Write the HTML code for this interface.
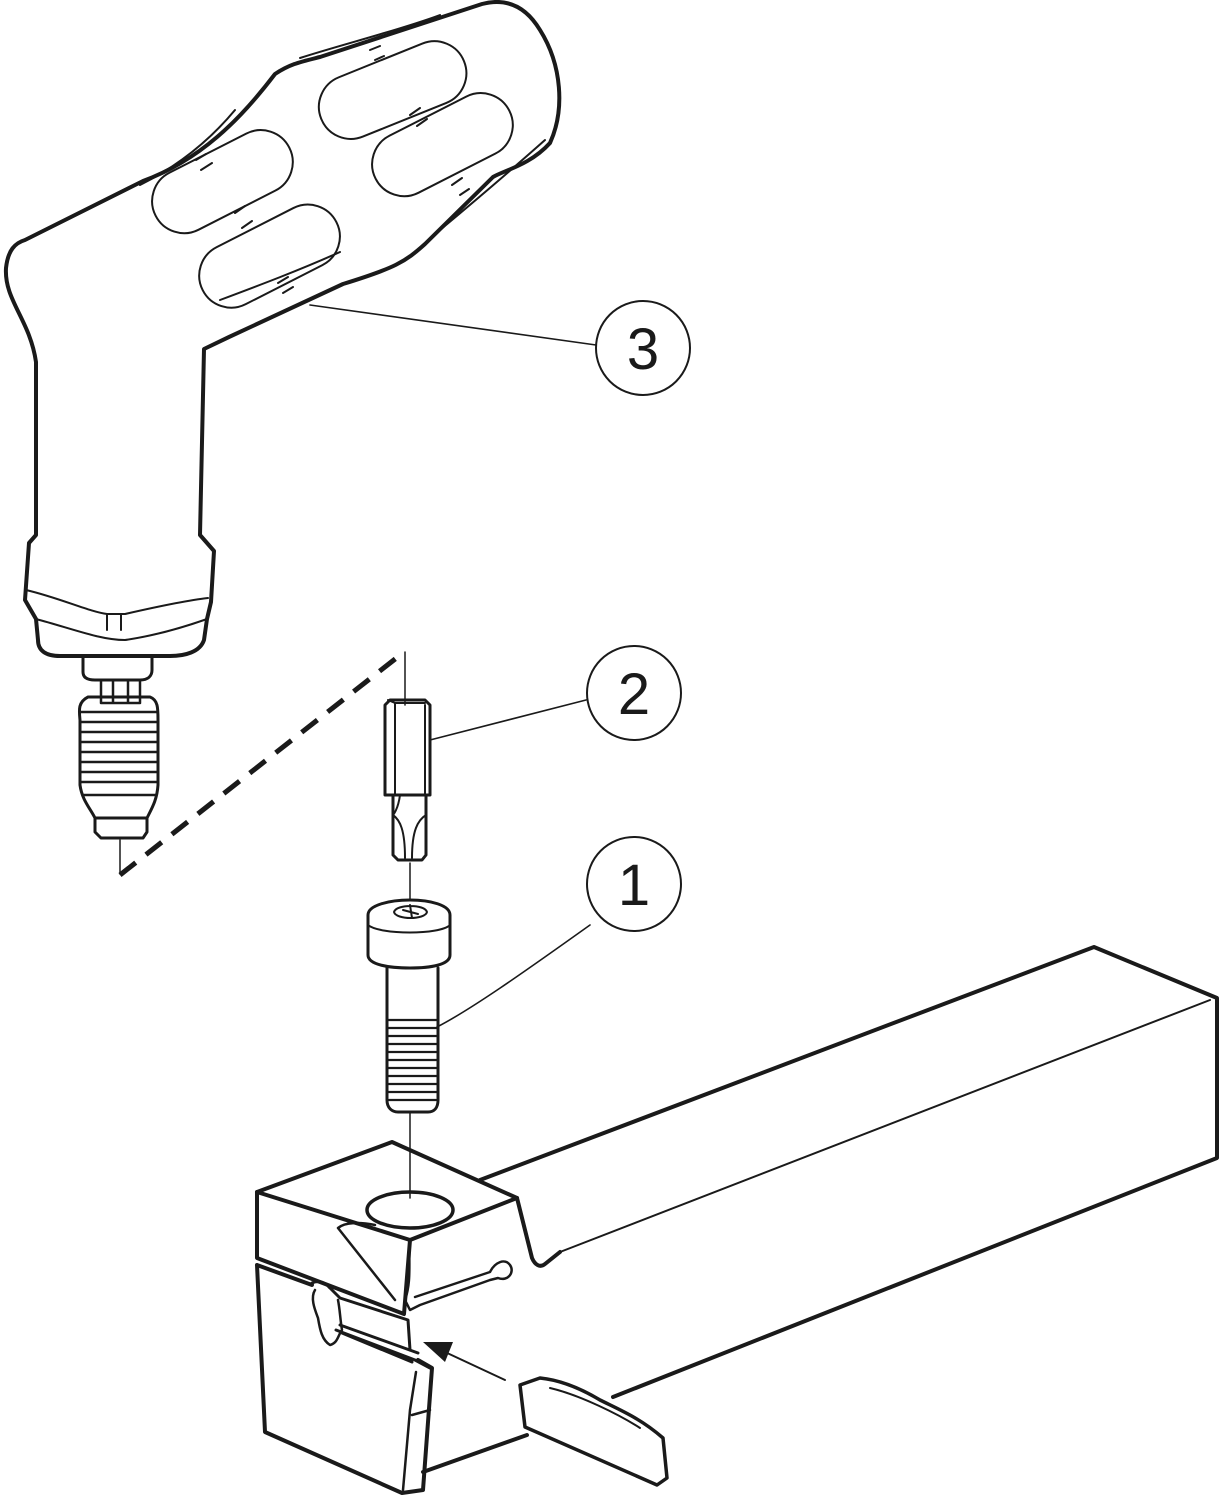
<!DOCTYPE html>
<html><head><meta charset="utf-8"><style>
html,body{margin:0;padding:0;background:#fff;}
svg{display:block;}
text{font-family:"Liberation Sans",sans-serif;}
</style></head><body>
<svg width="1219" height="1500" viewBox="0 0 1219 1500" xmlns="http://www.w3.org/2000/svg">
<g fill="none" stroke="#1a1a1a" stroke-linejoin="round" stroke-linecap="round">
<!-- handle -->
<path stroke-width="4" d="M36,362 C30,320 4,300 6,268 C8,250 15,243 25,240 L143,181 C200,160 240,120 275,74 C290,64 300,62 320,57 L482,4 C505,-2 525,5 540,30 C562,65 565,110 550,143 C530,165 505,170 493,177 L425,244 C405,262 395,268 343,284 L229,337 L204,349 L200,535 L214,551 L211,602 L207,619 L204,640 C200,652 185,656 170,656 L60,656 C45,656 38,650 38,640 L36,619 L25,600 L29,543 L36,535 Z"/>
<path stroke-width="2" d="M26,590 C60,598 90,612 107,614 L125,614 C160,606 190,600 208,598"/>
<path stroke-width="2" d="M36,619 C70,628 100,640 125,640 C160,635 190,625 207,619"/>
<path stroke-width="2" d="M107,614 L107,630 M121,614 L121,630"/>
<!-- grip slots -->
<g stroke-width="2">
<rect x="148" y="150" width="150" height="64" rx="32" transform="rotate(-27 222 183)"/>
<rect x="195" y="224" width="150" height="64" rx="32" transform="rotate(-27 270 257)"/>
<rect x="316" y="58" width="154" height="64" rx="32" transform="rotate(-22 393 91)"/>
<rect x="368" y="113" width="150" height="64" rx="32" transform="rotate(-27 442 146)"/>
<path d="M196,160 L206,154 M201,170 L212,163 M235,213 L245,206 M242,228 L252,221 M278,283 L288,277 M283,293 L293,287 M370,50 L380,46 M375,60 L384,56 M410,115 L420,108 M417,126 L427,119 M452,185 L462,178 M460,195 L469,189"/>
<path d="M140,185 C180,165 210,140 235,110 M220,300 C260,285 300,270 340,252 M440,230 C470,205 500,180 545,140 M300,58 C340,45 400,30 440,15"/>
</g>
<!-- bit on handle -->
<path stroke-width="3" d="M83,658 L83,672 C83,678 88,680 95,680 L140,680 C148,680 152,676 152,670 L152,658"/>
<path stroke-width="2.5" d="M101,680 L101,703 L140,703 L140,680 M113,680 L113,703 M128,680 L128,703"/>
<path stroke-width="3" d="M88,697 C78,702 79,710 80,720 L80,785 C82,800 90,808 95,818 L147,818 C152,808 157,800 158,785 L158,720 C158,708 158,700 150,697 Z"/>
<path stroke-width="2.5" d="M81,712 H157 M81,722 H157 M81,732 H157 M81,742 H157 M81,752 H157 M81,762 H157 M81,772 H157 M81,782 H157 M84,795 H155"/>
<path stroke-width="3" d="M95,818 L95,832 L101,838 L143,838 L147,832 L147,818"/>
<path stroke-width="1.5" d="M120,840 L120,874"/>
<!-- dashed line -->
<path stroke-width="5" stroke-dasharray="20,13" stroke-linecap="butt" d="M120,875 L404,652"/>
<path stroke-width="1.5" d="M405,652 L405,705"/>
<!-- bit 2 -->
<path stroke-width="3" d="M385,705 L390,700 L425,700 L430,705 L430,795 L385,795 Z"/>
<path stroke-width="2" d="M395,703 L395,795 M425,705 L425,795 M388,700 L395,703 L425,703"/>
<path stroke-width="3" d="M393,795 L393,855 L398,860 L422,860 L426,855 L426,795"/>
<path stroke-width="2" d="M393,815 C400,820 405,830 405,858 M426,815 C418,820 412,830 412,858 M400,795 C398,810 393,815 393,815"/>
<path stroke-width="1.5" d="M410,863 L410,900"/>
<!-- screw 1 -->
<path stroke-width="3" d="M368,915 C368,905 390,900 410,900 C430,900 450,905 450,915 L450,955 C450,965 430,968 410,968 C390,968 368,965 368,955 Z"/>
<path stroke-width="2" d="M368,925 C380,935 440,935 450,925"/>
<path stroke-width="2" d="M394,912 C396,904 425,904 427,912 C425,920 396,920 394,912 Z M403,910 L418,914 M410,905 L412,918"/>
<path stroke-width="3" d="M387,968 L387,1100 C387,1108 392,1112 398,1112 L428,1112 C434,1112 438,1108 438,1100 L438,968"/>
<path stroke-width="2.3" d="M388,1020 H437 M388,1028 H437 M388,1036 H437 M388,1044 H437 M388,1052 H437 M388,1060 H437 M388,1068 H437 M388,1076 H437 M388,1084 H437 M388,1092 H437 M389,1100 H436"/>
<path stroke-width="1.5" d="M410,1113 L410,1198"/>
<!-- leaders & circles -->
<g stroke-width="1.6">
<path d="M310,305 L596,345"/>
<path d="M430,740 L586,700"/>
<path d="M437,1027 C470,1010 520,975 590,925"/>
</g>
<g stroke-width="2">
<circle cx="643" cy="348" r="47"/>
<circle cx="634" cy="693" r="47"/>
<circle cx="634" cy="884" r="47"/>
</g>
<!-- bar -->
<path stroke-width="4" d="M480,1180 L1094,947 L1217,998 L1217,1158 L613,1397"/>
<path stroke-width="2" d="M1210,1000 L560,1252"/>
<!-- head block -->
<path stroke-width="4" d="M257,1192 L392,1142 L517,1198 L410,1240 Z"/>
<path stroke-width="4" d="M257,1192 L257,1258 L404,1314 L410,1240"/>
<path stroke-width="4" d="M517,1198 L532,1258 C535,1265 540,1268 545,1264 L560,1252"/>
<ellipse cx="410" cy="1210" rx="43" ry="18" stroke-width="3.5"/>
<path stroke-width="2.5" d="M338,1228 C345,1222 360,1222 375,1225 M338,1228 L395,1300 M410,1240 C408,1260 412,1280 405,1300 L410,1310 L420,1305 L490,1280 M415,1297 L490,1272 M490,1272 C495,1262 505,1258 510,1265 C515,1272 508,1282 498,1278 L490,1280"/>
<!-- blade -->
<path stroke-width="4" d="M257,1265 L265,1432 L402,1493 L423,1490 L432,1368 L418,1360 M257,1265 L312,1285"/>
<path stroke-width="3" d="M312,1283 C318,1280 325,1282 330,1288 L340,1298 L408,1320 L410,1350"/>
<path stroke-width="2.5" d="M315,1290 C310,1298 315,1310 318,1318 C320,1330 322,1340 330,1345 C338,1343 338,1335 342,1330 C340,1318 340,1310 338,1300"/>
<path stroke-width="3" d="M336,1330 L415,1360 L430,1368 M340,1325 L418,1353 M342,1333 L412,1362"/>
<path stroke-width="2.5" d="M416,1372 L410,1410 L403,1490 M412,1415 L430,1410"/>
<path stroke-width="4" d="M423,1472 L527,1435"/>
<!-- insert -->
<path stroke-width="3.5" d="M520,1385 L540,1378 C560,1380 580,1388 600,1400 C620,1410 640,1418 663,1438 L667,1478 L657,1485 L525,1427 Z"/>
<path stroke-width="2" d="M550,1388 C580,1395 620,1415 640,1428"/>
<!-- arrow -->
<path stroke-width="2" d="M505,1380 L430,1345"/>
<path fill="#1a1a1a" stroke="none" d="M423,1342 L453,1342 L445,1362 Z"/>
</g>
<g font-size="58" fill="#1a1a1a" text-anchor="middle">
<text x="643" y="369">3</text>
<text x="634" y="714">2</text>
<text x="634" y="905">1</text>
</g>
</svg>
</body></html>
